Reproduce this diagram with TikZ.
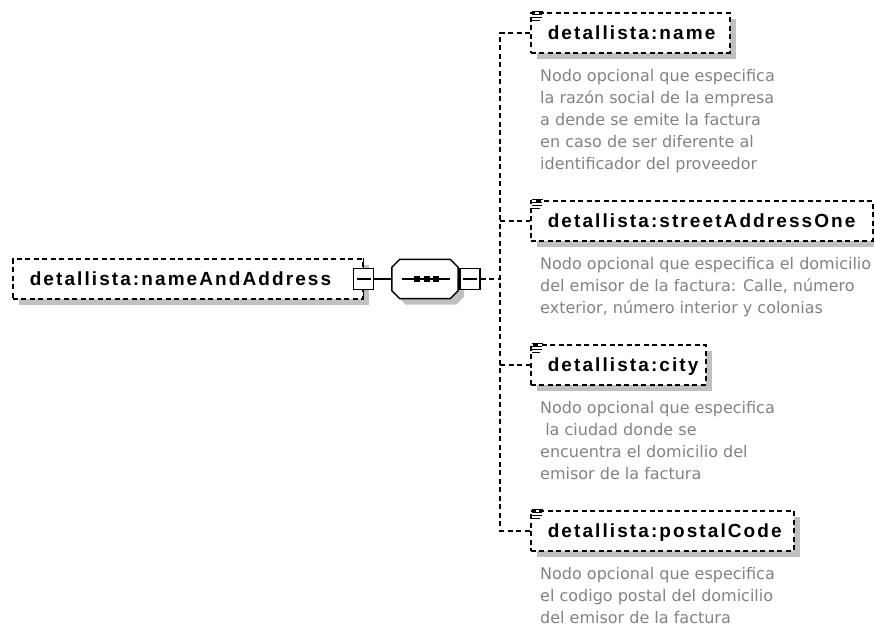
\documentclass[tikz,border=0pt]{standalone}
\usepackage{fontspec}
\setmainfont{DejaVu Sans}
\newfontfamily\titlefont{Liberation Sans}[LetterSpace=11]
\usetikzlibrary{shadows}
\definecolor{descgray}{RGB}{130,130,130}
\definecolor{shadowgray}{RGB}{192,192,192}

\begin{document}
\begin{tikzpicture}[x=1pt,y=-1pt,
  boxline/.style={line width=1.5pt},
  conn/.style={line width=1.5pt,dash pattern=on 5pt off 3.5pt},
  boxshadow/.style={drop shadow={shadow xshift=6pt,shadow yshift=-6pt,opacity=1,fill=shadowgray}},
  elem/.style={draw,conn,fill=white,boxshadow,minimum height=40pt,inner ysep=0pt,inner xsep=17pt,
    align=left,text height=13.5pt,text depth=0pt,
    font=\titlefont\bfseries\fontsize{19}{21}\selectfont},
  minusbox/.style={draw,boxline,fill=white,minimum width=20pt,minimum height=21pt,inner sep=0pt,
    path picture={\draw[boxline] ([xshift=3pt]path picture bounding box.west) -- ([xshift=-3pt]path picture bounding box.east);}},
  seqbox/.style={minimum width=66pt,minimum height=39pt,inner sep=0pt},
  desc/.style={anchor=north west,align=left,inner sep=0pt,text=descgray,font=\fontsize{16}{22}\selectfont}]
\useasboundingbox (0,0) rectangle (874,627);

\node[elem,text width=316pt,anchor=west] (root) at (12,279) {detallista:nameAndAddress};
\draw[boxline] (root.north east) -- (root.south east);
\node[minusbox] (rootminus) at (root.east) {};

\node[seqbox] (seq) at (425,279) {};
\draw[boxline,fill=white,boxshadow] ([xshift=8pt]seq.north west) -- ([xshift=-8pt]seq.north east)
	-- ([yshift=-8pt]seq.north east) -- ([yshift=8pt]seq.south east)
	-- ([xshift=-8pt]seq.south east) -- ([xshift=8pt]seq.south west)
	-- ([yshift=8pt]seq.south west) -- ([yshift=-8pt]seq.north west) -- cycle;
\draw[boxline] ([xshift=10pt]seq.west) -- ([xshift=-8pt]seq.east);
\foreach \dx in {-8,1.5,11}
	\fill ([xshift=\dx pt]seq.center) ++(-3,-3) rectangle ++(6,6);
\node[minusbox,anchor=west] (seqminus) at ([xshift=1pt]seq.east) {};
\draw[boxline] (rootminus) -- (seq);

\coordinate (bus) at (500,279);
\draw[conn] (seqminus) -- (bus);

\node[elem,text width=165pt,anchor=north west] (name) at (530,12) {detallista:name};
\node[elem,text width=308pt,anchor=north west] (street) at (530,200) {detallista:streetAddressOne};
\node[elem,text width=141pt,anchor=north west] (city) at (530,344) {detallista:city};
\node[elem,text width=229pt,anchor=north west] (postal) at (530,510) {detallista:postalCode};

\draw[conn] (name.west) -| (bus) |- (postal.west);
\foreach \n in {street,city}
	\draw[conn] (bus |- \n.west) -- (\n.west);

\foreach \n in {name,street,city,postal}
\foreach \i/\l in {0/11,1/10,2/10,3/8}
	\draw[line width=1pt] (\n.north west) ++(2,-1+3*\i) -- ++(\l,0);

\node[desc] (namedesc) at (540,69) {Nodo opcional que especifica\\la razón social de la empresa\\a dende se emite la factura\\en caso de ser diferente al\\identificador del proveedor};
\node[desc] (streetdesc) at (540,257) {Nodo opcional que especifica el domicilio\\del emisor de la factura: Calle, número\\exterior, número interior y colonias};
\node[desc] (citydesc) at (540,401) {Nodo opcional que especifica\\\mbox{}\ la ciudad donde se\\encuentra el domicilio del\\emisor de la factura};
\node[desc] (postaldesc) at (540,567) {Nodo opcional que especifica\\el codigo postal del domicilio\\del emisor de la factura};

\end{tikzpicture}
\end{document}
